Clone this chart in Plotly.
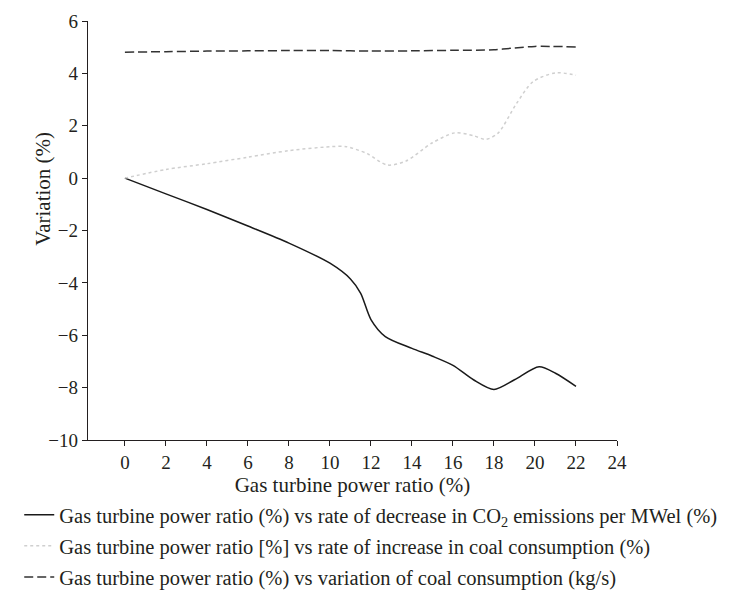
import plotly.graph_objects as go

# Solid: rate of decrease in CO2 emissions per MWel (%)
x_co2 = [0, 2, 4, 6, 8, 10, 11, 11.5, 12, 12.7, 14, 15, 16, 17, 18, 19, 20.2, 21, 22]
y_co2 = [0, -0.6, -1.2, -1.83, -2.48, -3.25, -3.85, -4.4, -5.4, -6.05, -6.5, -6.8, -7.15, -7.7, -8.07, -7.7, -7.2, -7.45, -7.95]

# Dotted: rate of increase in coal consumption (%)
x_inc = [0, 2, 4, 6, 8, 10, 10.8, 11.8, 12.8, 13.7, 15, 16.1, 17, 17.6, 18.2, 19.1, 19.9, 21, 22]
y_inc = [0, 0.33, 0.55, 0.8, 1.05, 1.2, 1.2, 0.94, 0.5, 0.65, 1.35, 1.73, 1.62, 1.48, 1.72, 2.85, 3.68, 4.02, 3.93]

# Dashed: variation of coal consumption (kg/s)
x_var = [0, 2, 4, 6, 8, 10, 12, 14, 16, 18, 19, 20, 22]
y_var = [4.81, 4.83, 4.85, 4.86, 4.87, 4.87, 4.85, 4.86, 4.88, 4.9, 4.97, 5.03, 5.01]

x_ticks = list(range(0, 25, 2))
y_ticks = list(range(-10, 7, 2))

names = [
    "Gas turbine power ratio (%) vs rate of decrease in CO<sub>2</sub> emissions per MWel (%)",
    "Gas turbine power ratio [%] vs rate of increase in coal consumption (%)",
    "Gas turbine power ratio (%) vs variation of coal consumption (kg/s)",
]

font = "Liberation Serif, Times New Roman, serif"

fig = go.Figure()
fig.add_trace(go.Scatter(x=x_co2, y=y_co2, mode="lines", name=names[0], legendgroup="a",
                         line=dict(color="#1a1a1a", width=1.5, shape="spline", smoothing=0.8)))
fig.add_trace(go.Scatter(x=x_inc, y=y_inc, mode="lines", name=names[1], legendgroup="b",
                         line=dict(color="#cfcfcf", width=1.5, dash="dot", shape="spline", smoothing=0.8)))
fig.add_trace(go.Scatter(x=x_var, y=y_var, mode="lines", name=names[2], legendgroup="c",
                         line=dict(color="#333333", width=1.5, dash="9px,4px", shape="spline", smoothing=0.8)))

fig.update_layout(
    width=739, height=595,
    margin=dict(l=80, r=130, t=13, b=163, autoexpand=False),
    paper_bgcolor="white", plot_bgcolor="white",
    font=dict(family=font, size=19, color="#231f20"),
    showlegend=True,
    legend=dict(x=-0.13, y=-0.131, xanchor="left", yanchor="top", orientation="v",
                tracegroupgap=1.5, itemwidth=30, bgcolor="rgba(0,0,0,0)",
                font=dict(size=20.5)),
    xaxis=dict(range=[-1.8, 24], tickvals=x_ticks, ticks="outside", ticklen=5, tickwidth=1.2,
               tickcolor="#231f20", showline=True, linecolor="#231f20", linewidth=1.3,
               showgrid=False, zeroline=False, automargin=False,
               title=dict(text="Gas turbine power ratio (%)", standoff=0, font=dict(size=21))),
    yaxis=dict(range=[-10, 6], tickvals=y_ticks, ticks="outside", ticklen=5, tickwidth=1.2,
               tickcolor="#231f20", showline=True, linecolor="#231f20", linewidth=1.3,
               showgrid=False, zeroline=False, automargin=False),
    annotations=[dict(text="Variation (%)", xref="paper", yref="paper", x=-0.085, y=0.6,
                      textangle=-90, showarrow=False, xanchor="center", yanchor="middle",
                      font=dict(size=21))],
)

fig.write_html("out.html")
